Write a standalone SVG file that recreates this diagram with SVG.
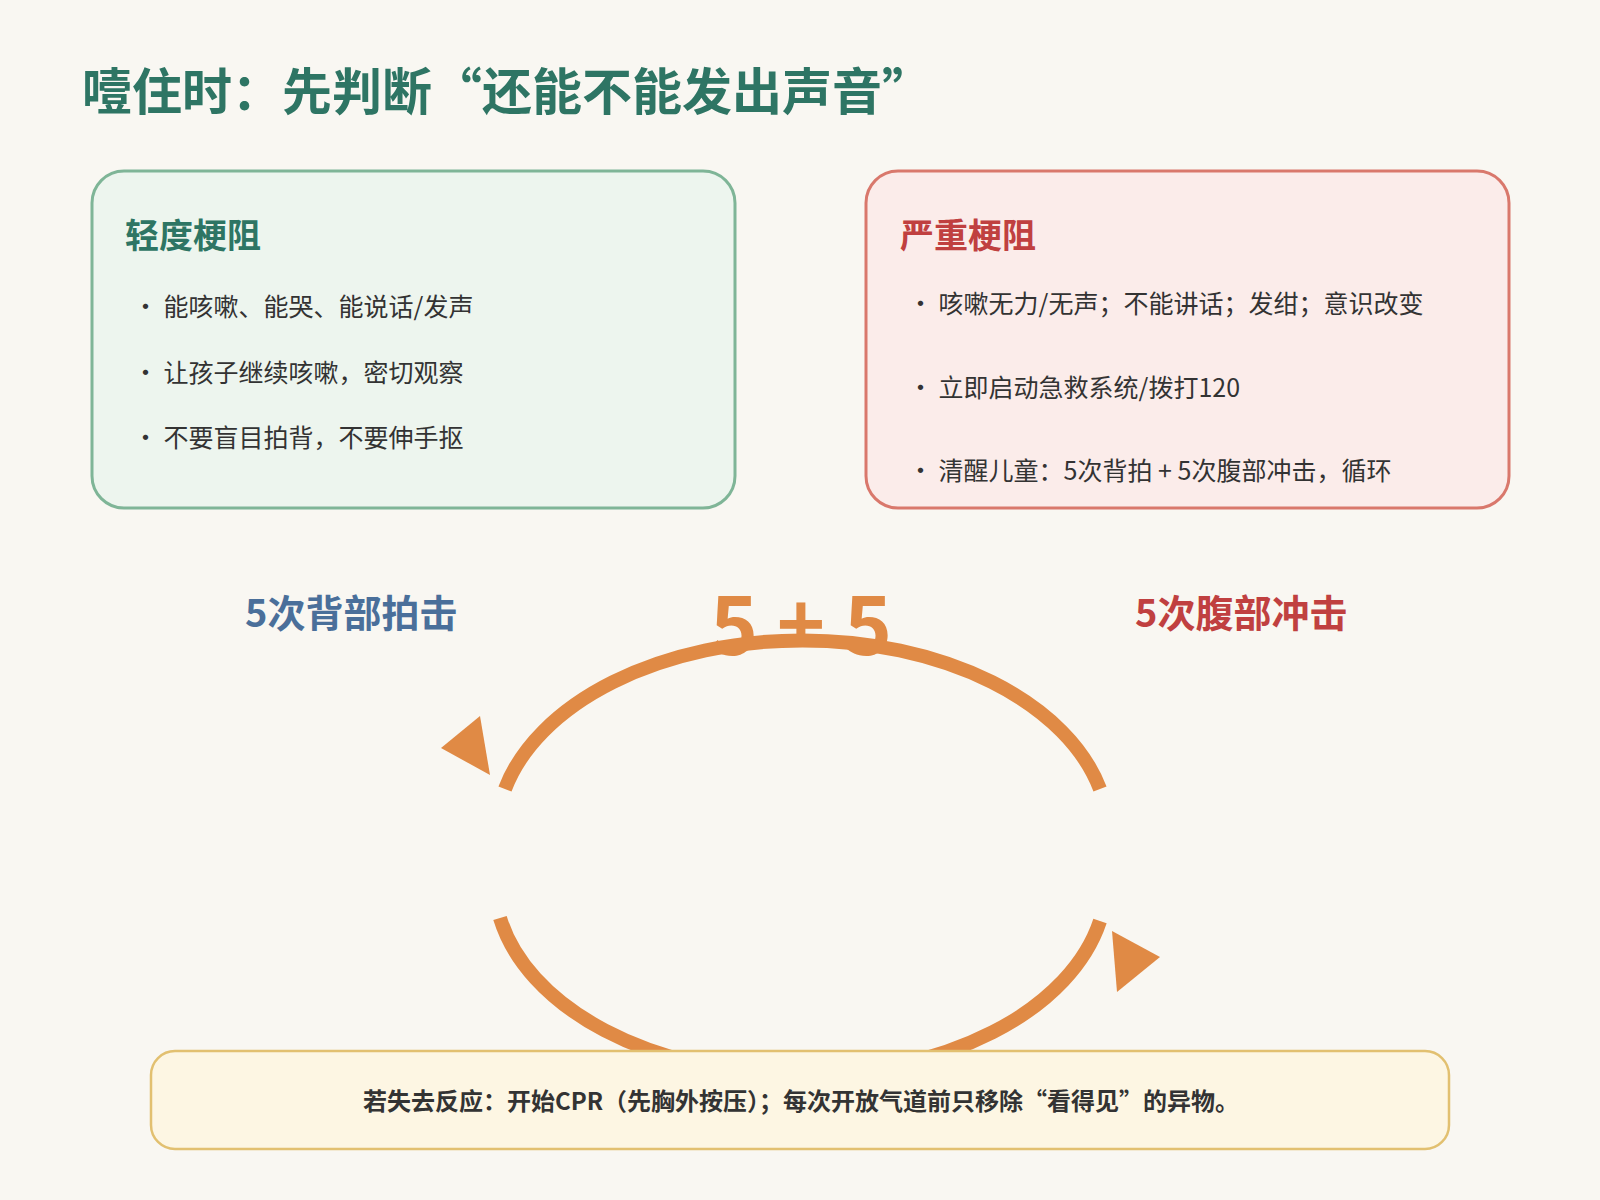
<svg xmlns="http://www.w3.org/2000/svg" width="1600" height="1200" viewBox="0 0 1600 1200">
<style>
text{font-family:"Noto Sans CJK SC","Noto Sans",sans-serif}
.b{font-size:25px;fill:#333}
.h{font-size:34px;font-weight:bold}
.arc{fill:none;stroke:#e08a45;stroke-width:14}
</style>
<rect width="1600" height="1200" fill="#f9f7f2"/>
<text x="82" y="110" font-size="50" font-weight="bold" fill="#2e7564">噎住时：先判断“还能不能发出声音”</text>
<g id="mild">
<rect x="92" y="171" width="643" height="337" rx="32" fill="#edf5ee" stroke="#7fb597" stroke-width="3"/>
<text x="125" y="248" class="h" fill="#2e7564">轻度梗阻</text>
<text x="133" y="316" class="b">• 能咳嗽、能哭、能说话/发声</text>
<text x="133" y="382" class="b">• 让孩子继续咳嗽，密切观察</text>
<text x="133" y="447" class="b">• 不要盲目拍背，不要伸手抠</text>
</g>
<g id="severe">
<rect x="866" y="171" width="643" height="337" rx="32" fill="#fbecea" stroke="#d9786c" stroke-width="3"/>
<text x="900" y="248" class="h" fill="#c04040">严重梗阻</text>
<text x="908" y="313" class="b">• 咳嗽无力/无声；不能讲话；发绀；意识改变</text>
<text x="908" y="397" class="b">• 立即启动急救系统/拨打120</text>
<text x="908" y="480" class="b">• 清醒儿童：5次背拍 + 5次腹部冲击，循环</text>
</g>
<g id="cycle">
<text x="245" y="627" font-size="38" font-weight="bold" fill="#4a6f9a">5次背部拍击</text>
<text x="1135" y="627" font-size="38" font-weight="bold" fill="#c04040">5次腹部冲击</text>
<text x="801" y="655" font-size="82" font-weight="bold" fill="#e08a45" text-anchor="middle">5 + 5</text>
</g>
<g id="connectors">
<path class="arc" d="M505 789 A306 194 0 0 1 1100 789"/>
<path class="arc" d="M500 918 A306 194 0 0 0 1100 921"/>
<polygon points="441,748 480,716 490,775" fill="#e08a45"/>
<polygon points="1112,931 1160,957 1117,992" fill="#e08a45"/>
</g>
<g id="note">
<rect x="151" y="1051" width="1298" height="98" rx="24" fill="#fdf6e3" stroke="#e2c070" stroke-width="2.5"/>
<text x="801" y="1110" font-size="24" font-weight="bold" fill="#333" text-anchor="middle">若失去反应：开始CPR（先胸外按压）；每次开放气道前只移除“看得见”的异物。</text>
</g>
</svg>
